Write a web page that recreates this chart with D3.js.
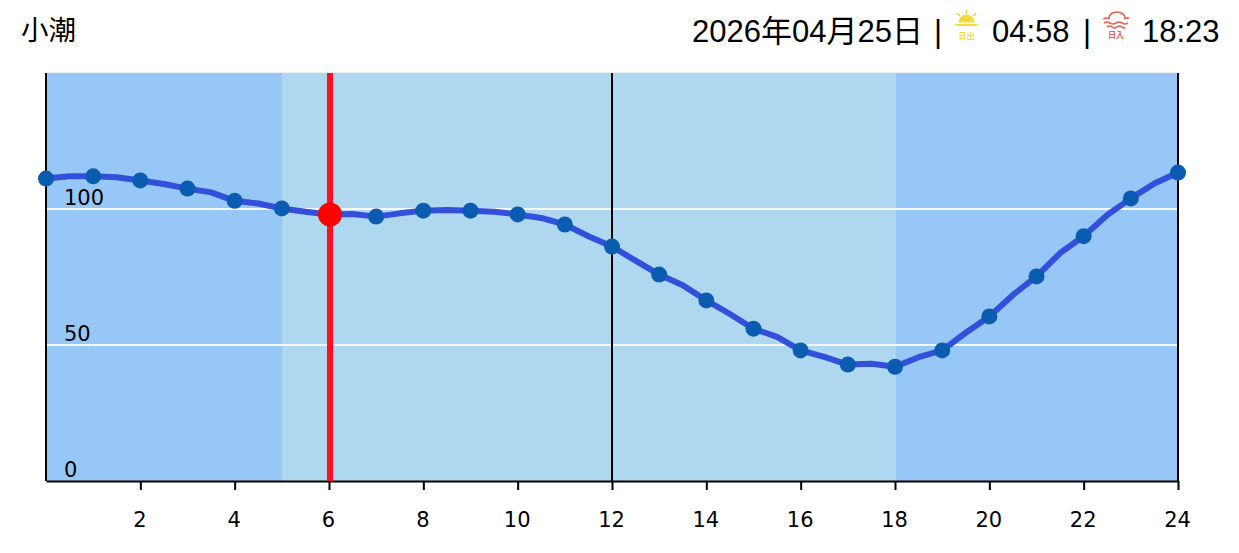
<!DOCTYPE html>
<html>
<head>
<meta charset="utf-8">
<script src="https://cdn.jsdelivr.net/npm/d3@7"></script>
<style>
  html, body { margin: 0; padding: 0; background: #fff; }
  svg { display: block; }
</style>
</head>
<body>
<svg id="chart" width="1239" height="553"></svg>
<script>
// tide height, every half hour
var lineHours = [0,0.5,1,1.5,2,2.5,3,3.5,4,4.5,5,5.5,6,6.5,7,7.5,8,8.5,9,9.5,10,10.5,11,11.5,12,12.5,13,13.5,14,14.5,15,15.5,16,16.5,17,17.5,18,18.5,19,19.5,20,20.5,21,21.5,22,22.5,23,23.5,24];
var lineValues = [111.2,112,112,111.7,110.5,109.2,107.5,106.1,103,102,100.2,99,98,98.2,97.2,98.4,99.4,99.6,99.4,99,98,96.7,94.3,90,86.2,81,75.9,72,66.4,61.4,56,53,48,45.6,42.8,43.1,42,45.5,48,54.5,60.5,68.4,75.2,83.8,90,97.8,103.9,109.4,113.4];
var dotHours = d3.range(0, 25);
var xTicks = [2,4,6,8,10,12,14,16,18,20,22,24];
var yTicks = [0,50,100];
var nightBands = [[0,5],[18,24]];
var dayBand = [5,18];
var nowHour = 6;
var nowValue = 98;
var noonHour = 12;
var tideName = "小潮";
var dateText = "2026年04月25日";
var sunriseText = "04:58";
var sunsetText = "18:23";

var svg = d3.select("#chart");
var x = d3.scaleLinear().domain([0, 24]).range([46, 1178]);
var y = d3.scaleLinear().domain([0, 150]).range([481, 73]);
var edge = h => Math.floor(x(h) + 1);

//// background bands ////
svg.append("rect").attr("x", 46).attr("y", 72).attr("width", 1132).attr("height", 1).attr("fill", "#eeeeee");
svg.selectAll("rect.night").data(nightBands).join("rect")
  .attr("class", "night")
  .attr("x", d => edge(d[0])).attr("y", y(150))
  .attr("width", d => edge(d[1]) - edge(d[0])).attr("height", y(0) - y(150))
  .attr("fill", "#97c7f7");
svg.append("rect")
  .attr("x", edge(dayBand[0])).attr("y", y(150))
  .attr("width", edge(dayBand[1]) - edge(dayBand[0])).attr("height", y(0) - y(150))
  .attr("fill", "#afd7f0");

//// white grid lines ////
svg.selectAll("line.grid").data(yTicks.filter(d => d > 0)).join("line")
  .attr("class", "grid")
  .attr("x1", x(0)).attr("x2", x(24))
  .attr("y1", d => y(d)).attr("y2", d => y(d))
  .attr("stroke", "#f4f7fa").attr("stroke-width", 2);

//// axes ////
var xAxis = d3.axisBottom(x).tickValues(xTicks).tickSize(9).tickPadding(22).tickSizeOuter(0);
var gx = svg.append("g").attr("transform", "translate(0," + y(0) + ")").call(xAxis);
gx.selectAll("text").attr("font-family", "'DejaVu Sans'").attr("font-size", 21).attr("fill", "#000").attr("x", -1);
gx.selectAll("line").attr("stroke", "#000").attr("stroke-width", 2);
gx.select(".domain").attr("stroke", "#000").attr("stroke-width", 2);

[0, noonHour, 24].forEach(function (h) {
  svg.append("line")
    .attr("x1", x(h)).attr("x2", x(h)).attr("y1", y(150)).attr("y2", y(0))
    .attr("stroke", "#000").attr("stroke-width", 2);
});

svg.selectAll("text.ylab").data(yTicks).join("text")
  .attr("class", "ylab")
  .attr("x", 64).attr("y", d => y(d) - 4)
  .attr("font-family", "'DejaVu Sans'").attr("font-size", 21).attr("fill", "#000")
  .text(d => d);

//// now marker, under the tide line ////
svg.append("line")
  .attr("x1", x(nowHour) + 1).attr("x2", x(nowHour) + 1).attr("y1", y(150)).attr("y2", y(0))
  .attr("stroke", "#ff0f1f").attr("stroke-width", 6);

//// tide line and dots ////
var line = d3.line().x((d, i) => x(lineHours[i])).y(d => y(d)).curve(d3.curveLinear);
svg.append("path").attr("d", line(lineValues))
  .attr("fill", "none").attr("stroke", "#3350dc").attr("stroke-width", 6).attr("stroke-linejoin", "round");

svg.selectAll("circle.dot").data(dotHours).join("circle")
  .attr("class", "dot")
  .attr("cx", d => x(d)).attr("cy", d => y(lineValues[lineHours.indexOf(d)]))
  .attr("r", 8).attr("fill", "#0a5cb0");

svg.append("circle").attr("cx", x(nowHour) + 1).attr("cy", y(nowValue)).attr("r", 12).attr("fill", "#ff0000");

//// header ////
var cjk = "'Noto Sans CJK JP'";
svg.append("text").attr("x", 21).attr("y", 40).attr("font-family", cjk).attr("font-size", 27.5).attr("fill", "#000").text(tideName);

function headText(px, txt) {
  return svg.append("text").attr("x", px).attr("y", 42)
    .attr("font-family", "'Liberation Sans'," + cjk).attr("font-size", 31).attr("fill", "#000").text(txt);
}
headText(692, dateText);
headText(934, "|");
headText(992, sunriseText);
headText(1083, "|");
headText(1142, sunsetText);

//// sunrise icon ////
var rise = svg.append("g").attr("fill", "#f0dc3c").attr("stroke", "#f0dc3c");
rise.append("path").attr("d", "M958.5 22.5 A8 8 0 0 1 974.500 22.5 Z").attr("stroke", "none");
rise.append("path").attr("d", "M954 24 H979 L975 26 H958 Z").attr("stroke", "none");
["M966.5 10V14","M957 13.5L960 16","M976 13.500L973 16"].forEach(function (p) {
  rise.append("path").attr("d", p).attr("stroke-width", 1.8).attr("fill", "none");
});
svg.append("text").attr("x", 966.5).attr("y", 38.5).attr("text-anchor", "middle")
  .attr("font-family", cjk).attr("font-size", 8).attr("font-weight", 700).attr("fill", "#f0dc3c").text("日出");

//// sunset icon ////
var set = svg.append("g").attr("fill", "none").attr("stroke", "#e8604c").attr("stroke-width", 1.6);
set.append("path").attr("d", "M1109 18 A8 6 0 0 1 1125 18");
["M1103.500 19q3 -2 6 0M1124.500 19q3 -2 4.500 -.5","M1104 23q3 -2 6 0t6 0t6 0t6 0","M1107 27q2.500 -2 5 0t5 0t5 0t3 0"].forEach(function (p) {
  set.append("path").attr("d", p);
});
svg.append("text").attr("x", 1116).attr("y", 37.5).attr("text-anchor", "middle")
  .attr("font-family", cjk).attr("font-size", 8).attr("font-weight", 700).attr("fill", "#e8604c").text("日入");
</script>
</body>
</html>
